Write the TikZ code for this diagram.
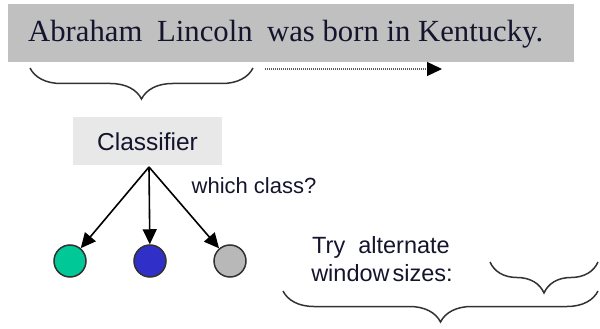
\documentclass[tikz,border=0pt]{standalone}
\usepackage{fontspec}
\newfontfamily\serifm{Liberation Serif}
\newfontfamily\sansm{Liberation Sans}
\usetikzlibrary{arrows.meta,decorations.pathreplacing}
\definecolor{boxgray}{RGB}{192,192,192}
\definecolor{clsgray}{RGB}{232,232,232}
\definecolor{txt}{RGB}{20,20,45}
\definecolor{edge}{RGB}{50,50,50}
\definecolor{dotline}{RGB}{90,90,90}
\definecolor{cgreen}{RGB}{0,200,150}
\definecolor{cblue}{RGB}{48,48,200}
\definecolor{cgray}{RGB}{184,184,184}
\tikzset{
  word/.style={inner sep=0pt, anchor=base west, text=txt, font=\serifm\fontsize{30.7}{36}\selectfont},
  stxt/.style={inner sep=0pt, anchor=base, text=txt, font=\sansm\fontsize{#1}{#1}\selectfont},
  dot/.style={circle, minimum size=32pt, inner sep=0pt, draw=edge, line width=1.5pt},
  arr/.style={line width=1.6pt, -{Triangle[length=15pt,width=14pt]}},
  curly/.style={draw=edge, line width=1.5pt, decorate, decoration={brace, mirror, amplitude=31pt}},
}
\begin{document}
\begin{tikzpicture}[x=1pt,y=-1pt]
\useasboundingbox (0,0) rectangle (600,329);
% sentence box
\fill[boxgray] (8,4) rectangle (574,62);
\node[word] (w1) at (28,42) {Abraham};
\node[word] (w2) at (157,42) {Lincoln};
\node[word] (w3) at (267,42) {was born in Kentucky.};
% brace under words
\coordinate (b1l) at (30,68);
\coordinate (b1r) at (253,68);
\draw[curly] (b1l) -- (b1r);
% dotted arrow
\coordinate (d1) at (265,69);
\coordinate (d2) at (442,69);
\draw[dotline, line width=1.4pt, dash pattern=on 1pt off 1pt, -{Triangle[length=15pt,width=14pt,color=black,fill=black]}] (d1) -- (d2);
% classifier
\fill[clsgray] (73,117) rectangle (222,165);
\node[stxt=24.5] (cls) at (147.5,150) {Classifier};
\coordinate (apex) at (149,167);
\node[dot, fill=cgreen] (c1) at (70,261) {};
\node[dot, fill=cblue] (c2) at (150,261) {};
\node[dot, fill=cgray] (c3) at (230,261) {};
\draw[arr] (apex) -- (c1);
\draw[arr] (apex) -- (c2);
\draw[arr] (apex) -- (c3);
\node[stxt=22] (wc) at (254,193) {which class?};
% window sizes
\node[stxt=23.5] (t1) at (381,253) {Try\ \ alternate};
\node[stxt=23.5] (t2) at (382,281) {window\hspace{3pt}sizes:};
\coordinate (b2l) at (490,262);
\coordinate (b2r) at (598,262);
\draw[curly] (b2l) -- (b2r);
\coordinate (b3l) at (283,291);
\coordinate (b3r) at (598,291);
\draw[curly] (b3l) -- (b3r);
\end{tikzpicture}
\end{document}
